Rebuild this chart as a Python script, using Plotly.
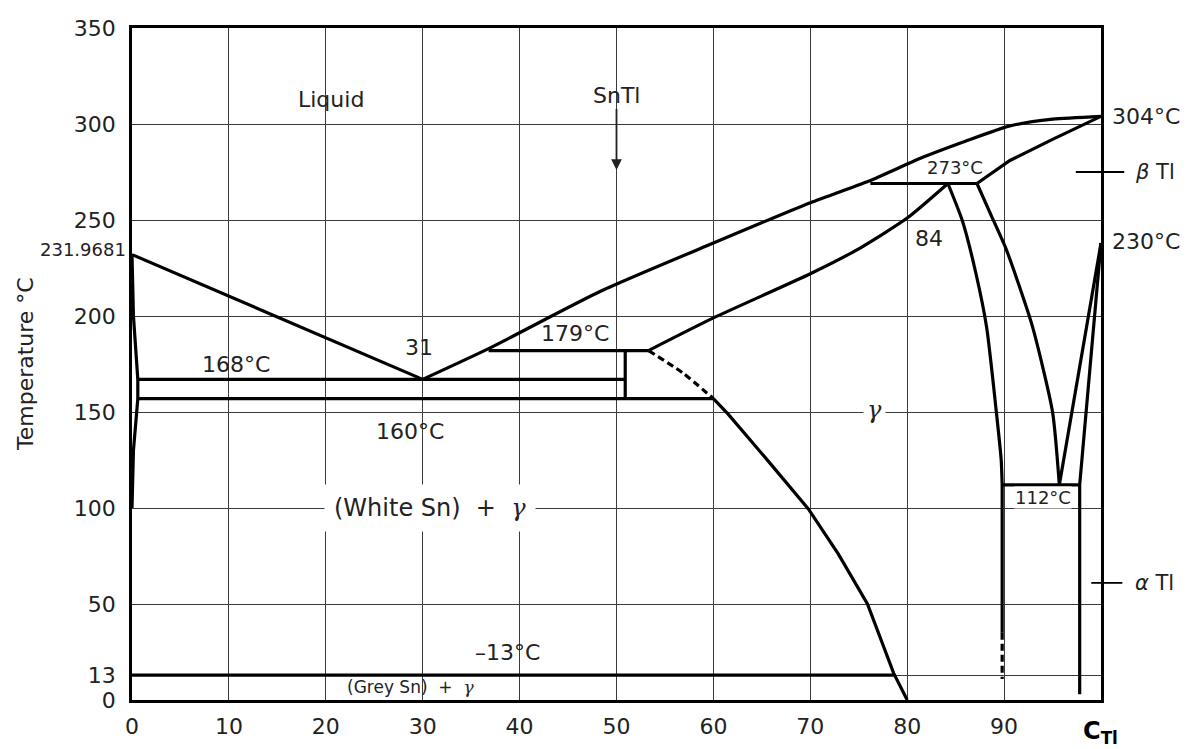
import plotly.graph_objects as go

# ---------------- data (composition in wt% Tl, temperature in °C) ----------------
x_ticks = [0, 10, 20, 30, 40, 50, 60, 70, 80, 90]
y_ticks = [0, 13, 50, 100, 150, 200, 250, 300, 350]

liq_sn_x = [0, 30]
liq_sn_T = [231.97, 167]
liq_tl_x = [30, 36.8, 48.4, 60, 70, 76.4, 81.3, 86, 90.6, 95, 100]
liq_tl_T = [167, 183, 213, 238, 259, 271, 282, 291, 299, 302.5, 304]
beta_sol_x = [87.2, 90.6, 95, 100]
beta_sol_T = [269, 281, 292, 304]
gamma_liq_x = [53.3, 60, 70, 75, 80, 84.2]
gamma_liq_T = [182, 199, 222, 235, 251, 269]
peri273_x = [76.2, 87.2]
peri273_T = [269, 269]
peri179_x = [36.8, 53.3]
peri179_T = [182, 182]
eut168_x = [0.6, 50.9]
eut168_T = [167, 167]
line160_x = [0.6, 60]
line160_T = [157, 157]
sntl_x = [50.9, 50.9]
sntl_T = [182, 157]
sn_solvus_x = [0, 0.15, 0.6, 0.6, 0.15, 0]
sn_solvus_T = [231.97, 200, 167, 157, 130, 100]
gam_solv_dash_x = [53.3, 56.8, 60]
gam_solv_dash_T = [182, 170.5, 157]
gam_solv_x = [60, 61.5, 65.9, 69.8, 72.9, 75.9, 78.6, 80]
gam_solv_T = [157, 149, 123, 99.5, 76, 50, 14, 0]
eut13_x = [0, 78.7]
eut13_T = [13, 13]
gam_right_x = [84.2, 85.7, 87.1, 88.2, 89.2, 89.7, 89.8]
gam_right_T = [269, 249.5, 222, 194, 150, 125, 112]
gam_vert_x = [89.8, 89.8]
gam_vert_T = [112, 35]
gam_vert_dash_x = [89.8, 89.8]
gam_vert_dash_T = [35, 11]
beta_gam_x = [87.2, 88.7, 90.2, 92.9, 95, 95.7]
beta_gam_T = [269, 252, 235, 195, 150, 112]
beta_a1_x = [100, 95.7]
beta_a1_T = [238, 112]
beta_a2_x = [100, 97.8, 97.8]
beta_a2_T = [238, 112, 3]
eut112_x = [89.8, 97.8]
eut112_T = [112, 112]

snTl_x = 50
tl_melt = 304
tl_trans = 230
beta_mark_T = 275
alpha_mark_T = 61

FONT = "DejaVu Sans, Verdana, sans-serif"
SERIF = "DejaVu Serif, Liberation Serif, serif"

fig = go.Figure()


def add_line(xs, ys, width=3.2, dash="solid", shape="linear", smoothing=0.8):
    fig.add_trace(go.Scatter(x=xs, y=ys, mode="lines",
                             line=dict(color="black", width=width, dash=dash,
                                       shape=shape, smoothing=smoothing),
                             hoverinfo="skip", showlegend=False))


straight_sets = [
    (liq_sn_x, liq_sn_T), (beta_sol_x, beta_sol_T),
    (peri273_x, peri273_T), (peri179_x, peri179_T),
    (eut168_x, eut168_T), (line160_x, line160_T), (sntl_x, sntl_T),
    (sn_solvus_x, sn_solvus_T), (eut13_x, eut13_T), (gam_vert_x, gam_vert_T),
    (beta_a1_x, beta_a1_T), (beta_a2_x, beta_a2_T), (eut112_x, eut112_T),
    (gam_solv_x, gam_solv_T),
]
for xs, ys in straight_sets:
    add_line(xs, ys)
curved_sets = [
    (liq_tl_x, liq_tl_T), (gamma_liq_x, gamma_liq_T),
    (gam_right_x, gam_right_T), (beta_gam_x, beta_gam_T),
]
for xs, ys in curved_sets:
    add_line(xs, ys, shape="spline", smoothing=0.6)
add_line(gam_solv_dash_x, gam_solv_dash_T, dash="7px,4px", shape="spline", smoothing=0.6)
add_line(gam_vert_dash_x, gam_vert_dash_T, dash="7px,4px")

gam = f"<span style='font-family:{SERIF}'><i>γ</i></span>"

ann = []


def txt(text, x, y, size=22, **kw):
    d = dict(text=text, x=x, y=y, xref="x", yref="y", showarrow=False,
             font=dict(family=FONT, size=size, color="#222"))
    d.update(kw)
    ann.append(d)


txt("Liquid", 20.5, 313, size=22)
txt("168°C", 10.7, 175)
txt("31", 29.6, 183.5)
txt("179°C", 45.7, 191)
txt("160°C", 28.7, 140)
txt("(White Sn)  +  " + gam, 30.8, 100, size=24, bgcolor="white", borderpad=9)
txt(gam, 76.6, 151, size=24, bgcolor="white", borderpad=3)
txt("–13°C", 38.8, 24.5)
txt("(Grey Sn)  +  " + gam, 28.7, 7, size=17)
txt("273°C", 84.9, 277.5, size=18)
txt("84", 82.3, 240.5)
txt("112°C", 94.0, 105.5, size=18, bgcolor="white", borderpad=0)

# SnTl with arrow
ann.append(dict(text="SnTl", x=snTl_x, y=276, xref="x", yref="y", showarrow=True,
                ax=0, ay=-75, arrowhead=2, arrowsize=1.2, arrowwidth=1.8,
                arrowcolor="#222", standoff=0,
                font=dict(family=FONT, size=22, color="#222")))

# left of axis: Sn melting point
ann.append(dict(text="231.9681", x=0, y=liq_sn_T[0], xref="paper", yref="y",
                xanchor="right", xshift=-4, yshift=5, showarrow=False,
                font=dict(family=FONT, size=18, color="#222")))

# right side labels
for t, yv in [("304°C", tl_melt), ("230°C", tl_trans + 9)]:
    ann.append(dict(text=t, x=1, y=yv, xref="paper", yref="y", xanchor="left",
                    xshift=9, showarrow=False,
                    font=dict(family=FONT, size=22, color="#222")))
for t, yv in [("<i>β</i> Tl", beta_mark_T), ("<i>α</i> Tl", alpha_mark_T)]:
    ann.append(dict(text=t, x=1, y=yv, xref="paper", yref="y", xanchor="left",
                    xshift=32, showarrow=False,
                    font=dict(family=FONT, size=21, color="#222")))

# axis titles
ann.append(dict(text="Temperature °C", x=0, y=0.5, xref="paper", yref="paper",
                textangle=-90, xanchor="center", yanchor="middle", xshift=-107,
                showarrow=False, font=dict(family=FONT, size=22, color="#222")))
ann.append(dict(text="<b>C</b><sub><b>Tl</b></sub>", x=1, y=0, xref="paper", yref="paper",
                xanchor="center", yanchor="middle", xshift=-1, yshift=-32,
                showarrow=False, font=dict(family=FONT, size=24, color="black")))

shapes = [
    dict(type="line", xref="paper", yref="paper", x0=0.974, x1=1.024,
         y0=beta_mark_T / 350, y1=beta_mark_T / 350, line=dict(color="black", width=1.8)),
    dict(type="line", xref="paper", yref="paper", x0=0.990, x1=1.022,
         y0=alpha_mark_T / 350, y1=alpha_mark_T / 350, line=dict(color="black", width=1.8)),
]

fig.update_layout(
    width=1192, height=749,
    margin=dict(l=124, r=99, t=20, b=57),
    paper_bgcolor="white", plot_bgcolor="white",
    annotations=ann, shapes=shapes,
    font=dict(family=FONT, size=22, color="#222"),
)
fig.update_xaxes(range=[0, 100], tickvals=x_ticks, ticktext=[str(v) for v in x_ticks],
                 showgrid=True, gridcolor="#3a3a3a", gridwidth=1.3,
                 showline=True, linecolor="black", linewidth=2.6, mirror=True,
                 ticks="", zeroline=False, ticklabelstandoff=5, automargin=False,
                 tickfont=dict(size=22, color="#222"))
fig.update_yaxes(range=[0, 350], tickvals=y_ticks, ticktext=[str(v) for v in y_ticks],
                 showgrid=True, gridcolor="#3a3a3a", gridwidth=1.3,
                 showline=True, linecolor="black", linewidth=2.6, mirror=True,
                 ticks="", zeroline=False, ticklabelstandoff=9, automargin=False,
                 tickfont=dict(size=22, color="#222"))

fig.write_html("out.html")
